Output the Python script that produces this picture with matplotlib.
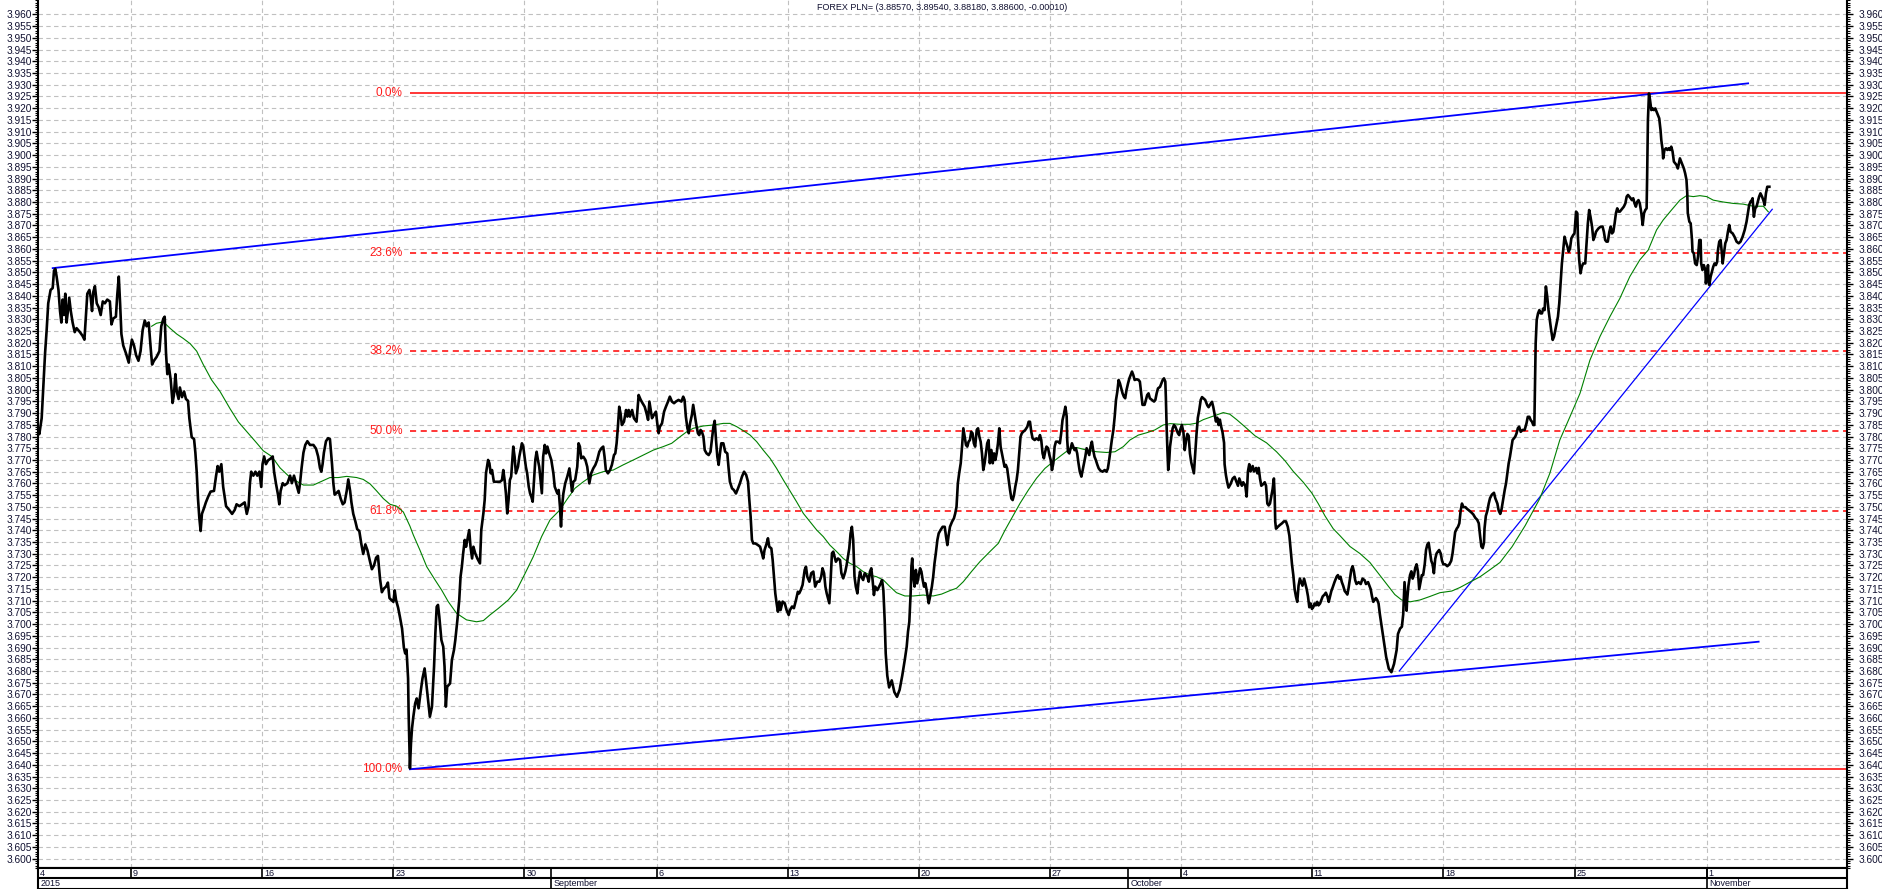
import matplotlib
matplotlib.use("Agg")
import matplotlib.pyplot as plt
from matplotlib.ticker import MultipleLocator, FixedLocator, FormatStrFormatter

plt.rcParams['font.family'] = ['Liberation Sans', 'DejaVu Sans']

# x axis = trading days counted from the first bar (Tue 4 Aug 2015)
day = [
    0.00, 0.05, 0.14, 0.20, 0.27, 0.33, 0.39, 0.48, 0.56, 0.61, 0.66, 0.71, 0.78, 0.84, 0.89, 0.94, 0.99, 1.04, 1.09, 1.14,
    1.19, 1.25, 1.32, 1.40, 1.47, 1.60, 1.70, 1.77, 1.82, 1.88, 1.96, 2.01, 2.06, 2.11, 2.17, 2.24, 2.31, 2.39, 2.47, 2.55,
    2.64, 2.74, 2.80, 2.87, 2.97, 3.02, 3.08, 3.13, 3.18, 3.25, 3.35, 3.46, 3.51, 3.58, 3.66, 3.74, 3.83, 3.91, 3.99, 4.07,
    4.14, 4.22, 4.30, 4.35, 4.42, 4.52, 4.63, 4.70, 4.78, 4.83, 4.88, 4.93, 4.98, 5.06, 5.13, 5.18, 5.24, 5.29, 5.36, 5.41,
    5.49, 5.57, 5.64, 5.72, 5.77, 5.86, 5.95, 6.00, 6.05, 6.10, 6.15, 6.20, 6.25, 6.33, 6.40, 6.49, 6.58, 6.71, 6.79, 6.85,
    6.91, 6.99, 7.06, 7.17, 7.29, 7.40, 7.50, 7.57, 7.68, 7.78, 7.88, 7.96, 8.03, 8.08, 8.13, 8.21, 8.29, 8.36, 8.44, 8.51,
    8.56, 8.62, 8.69, 8.77, 8.87, 8.95, 9.00, 9.07, 9.15, 9.20, 9.25, 9.33, 9.40, 9.51, 9.61, 9.68, 9.76, 9.84, 9.94, 9.99,
    10.05, 10.12, 10.19, 10.27, 10.37, 10.50, 10.60, 10.68, 10.75, 10.80, 10.85, 10.90, 10.98, 11.06, 11.13, 11.21, 11.26,
    11.31, 11.39, 11.46, 11.54, 11.62, 11.69, 11.77, 11.83, 11.90, 11.95, 12.02, 12.10, 12.17, 12.25, 12.33, 12.40, 12.48,
    12.56, 12.66, 12.73, 12.81, 12.89, 12.96, 13.04, 13.11, 13.19, 13.27, 13.34, 13.40, 13.47, 13.55, 13.60, 13.65, 13.73,
    13.80, 13.88, 13.95, 14.00, 14.05, 14.11, 14.13, 14.18, 14.22, 14.26,
    14.31, 14.38, 14.44, 14.51, 14.59, 14.66, 14.74, 14.79, 14.87, 14.94, 15.02, 15.10, 15.15, 15.20, 15.25, 15.30, 15.38,
    15.45, 15.50, 15.55, 15.60, 15.71, 15.78, 15.86, 15.91, 15.99, 16.06, 16.11, 16.16, 16.21, 16.27, 16.32, 16.37, 16.44,
    16.49, 16.55, 16.60, 16.67, 16.75, 16.85, 16.90, 16.98, 17.03, 17.08, 17.16, 17.21, 17.26, 17.31, 17.38, 17.49, 17.61,
    17.69, 17.74, 17.79, 17.84, 17.89, 17.94, 17.99, 18.04, 18.12, 18.17, 18.22, 18.30, 18.35, 18.40, 18.45, 18.50, 18.55,
    18.60, 18.65, 18.71, 18.76, 18.81, 18.86, 18.91, 18.96, 19.01, 19.06, 19.11, 19.16, 19.21, 19.26, 19.32, 19.37, 19.42,
    19.49, 19.57, 19.65, 19.70, 19.75, 19.80, 19.85, 19.90, 19.94, 19.98, 20.03, 20.10, 20.18, 20.26, 20.31, 20.36, 20.41,
    20.48, 20.56, 20.61, 20.66, 20.71, 20.79, 20.87, 20.94, 21.02, 21.09, 21.17, 21.25, 21.32, 21.40, 21.48, 21.55, 21.60,
    21.65, 21.73, 21.81, 21.88, 21.96, 22.01, 22.06, 22.11, 22.16, 22.21, 22.26, 22.34, 22.42, 22.47, 22.52, 22.57, 22.65,
    22.72, 22.82, 22.90, 22.98, 23.05, 23.13, 23.20, 23.26, 23.31, 23.36, 23.41, 23.48, 23.56, 23.61, 23.66, 23.71, 23.79,
    23.87, 23.94, 24.02, 24.09, 24.17, 24.25, 24.32, 24.42, 24.53, 24.60, 24.65, 24.70, 24.76, 24.81, 24.86, 24.93, 24.98,
    25.03, 25.09, 25.16, 25.21, 25.26, 25.31, 25.37, 25.42, 25.49, 25.57, 25.64, 25.69, 25.75, 25.80, 25.85, 25.90, 25.95,
    26.00, 26.05, 26.13, 26.20, 26.28, 26.33, 26.38, 26.46, 26.53, 26.61, 26.69, 26.76, 26.84, 26.92, 27.00, 27.07, 27.12,
    27.17, 27.22, 27.27, 27.35, 27.45, 27.53, 27.60, 27.65, 27.70, 27.78, 27.83, 27.88, 27.96, 28.01, 28.06, 28.11, 28.16,
    28.21, 28.26, 28.31, 28.39, 28.47, 28.54, 28.62, 28.67, 28.75, 28.82, 28.90, 28.97, 29.02,
    29.08, 29.15, 29.23, 29.28, 29.33, 29.41, 29.48, 29.56, 29.63, 29.71, 29.79, 29.86, 29.91, 29.97, 30.02, 30.07, 30.12,
    30.17, 30.22, 30.27, 30.32, 30.37, 30.42, 30.50, 30.58, 30.63, 30.70, 30.78, 30.83, 30.88, 30.93, 30.98, 31.03, 31.08,
    31.13, 31.18, 31.24, 31.29, 31.34, 31.39, 31.46, 31.52, 31.57, 31.62, 31.67, 31.72, 31.77, 31.82, 31.87, 31.92, 32.00,
    32.07, 32.13, 32.18, 32.23, 32.28, 32.32, 32.38, 32.45, 32.55, 32.65, 32.75, 32.85, 32.95, 33.05, 33.12, 33.17, 33.22,
    33.27, 33.30, 33.33, 33.37, 33.42, 33.47, 33.52, 33.57, 33.63, 33.68, 33.73, 33.78, 33.83, 33.88, 33.96, 34.01, 34.08,
    34.13, 34.18, 34.23, 34.29, 34.34, 34.41, 34.49, 34.57, 34.62, 34.67, 34.72, 34.77, 34.85, 34.92, 34.97, 35.02, 35.07,
    35.12, 35.18, 35.23, 35.28, 35.33, 35.38, 35.43, 35.48, 35.53, 35.58, 35.63, 35.68, 35.73, 35.79, 35.84, 35.89, 35.94,
    35.99, 36.04, 36.09, 36.14, 36.19, 36.24, 36.29, 36.35, 36.40, 36.45, 36.50, 36.55, 36.60, 36.65, 36.70, 36.75, 36.80,
    36.85, 36.90, 36.95, 37.00, 37.06, 37.11, 37.16, 37.21, 37.26, 37.31, 37.36, 37.41, 37.46, 37.51, 37.56, 37.64, 37.72,
    37.77, 37.82, 37.87, 37.92, 38.00, 38.07, 38.15, 38.20, 38.25, 38.30, 38.35, 38.40, 38.45, 38.51, 38.56, 38.61, 38.66,
    38.71, 38.76, 38.81, 38.89, 38.96, 39.01, 39.06, 39.12, 39.17, 39.22, 39.24, 39.27, 39.32, 39.37, 39.42, 39.47, 39.52,
    39.57, 39.62, 39.67, 39.72, 39.78, 39.83, 39.88, 39.93, 39.98, 40.03, 40.08, 40.13, 40.18, 40.23, 40.28, 40.33, 40.39,
    40.44, 40.51, 40.59, 40.67, 40.74, 40.79, 40.84, 40.89, 40.94, 41.00, 41.05, 41.10, 41.15, 41.20, 41.25, 41.30, 41.35,
    41.40, 41.45, 41.50, 41.56, 41.61, 41.66, 41.71, 41.76, 41.81, 41.89, 41.96, 42.01, 42.06, 42.11, 42.19, 42.24, 42.29,
    42.34, 42.39, 42.47, 42.55, 42.60, 42.65, 42.70, 42.78, 42.83, 42.88, 42.93, 42.98, 43.00, 43.03, 43.06, 43.09, 43.13,
    43.16, 43.21, 43.26, 43.31, 43.36, 43.41, 43.46, 43.51,
    43.54, 43.61, 43.67, 43.72, 43.77, 43.82, 43.87, 43.92, 43.97, 44.02, 44.07, 44.12, 44.17, 44.22, 44.27, 44.33, 44.38,
    44.43, 44.50, 44.58, 44.63, 44.71, 44.76, 44.81, 44.86, 44.91, 44.96, 45.01, 45.06, 45.11, 45.16, 45.22, 45.24, 45.29,
    45.34, 45.39, 45.47, 45.55, 45.62, 45.67, 45.75, 45.80, 45.85, 45.90, 45.95, 46.03, 46.08, 46.13, 46.18, 46.23, 46.31,
    46.36, 46.44, 46.49, 46.54, 46.59, 46.64, 46.72, 46.77, 46.82, 46.87, 46.92, 46.97, 47.02, 47.07, 47.12, 47.15, 47.17,
    47.20, 47.27, 47.35, 47.43, 47.50, 47.58, 47.65, 47.71, 47.76, 47.81, 47.86, 47.91, 47.96, 48.01, 48.06, 48.11, 48.16,
    48.21, 48.27, 48.32, 48.37, 48.42, 48.47, 48.52, 48.57, 48.62, 48.67, 48.72, 48.77, 48.82, 48.88, 48.93, 48.98, 49.05,
    49.10, 49.16, 49.21, 49.26, 49.31, 49.36, 49.43, 49.51, 49.56, 49.61, 49.66, 49.71, 49.76, 49.82, 49.87, 49.92, 49.97,
    50.02, 50.07, 50.12, 50.17, 50.22, 50.27, 50.35, 50.43, 50.50, 50.58, 50.63, 50.71, 50.76, 50.81, 50.86, 50.91, 50.96,
    51.01, 51.06, 51.11, 51.16, 51.21, 51.26, 51.32, 51.40, 51.50, 51.60, 51.70, 51.80, 51.85, 51.93, 52.00, 52.05, 52.08,
    52.10, 52.13, 52.15, 52.18, 52.20, 52.25, 52.31, 52.36, 52.41, 52.46, 52.51, 52.56, 52.61, 52.66, 52.71, 52.76, 52.81,
    52.87, 52.92, 52.97, 53.02, 53.07, 53.12, 53.17, 53.22, 53.27, 53.32, 53.37, 53.42, 53.48, 53.53, 53.58, 53.65, 53.73,
    53.81, 53.88, 53.93, 53.98, 54.03, 54.09, 54.14, 54.19, 54.24, 54.29, 54.34, 54.42, 54.49, 54.57, 54.65, 54.72, 54.80,
    54.87, 54.93, 54.98, 55.03, 55.08, 55.13, 55.15, 55.20, 55.26, 55.31, 55.36, 55.43, 55.51, 55.56, 55.64, 55.69, 55.75,
    55.80,
    55.86, 55.92, 55.97, 56.02, 56.07, 56.12, 56.17, 56.22, 56.27, 56.32, 56.37, 56.42, 56.47, 56.53, 56.60, 56.68, 56.75,
    56.80, 56.86, 56.91, 56.96, 57.01, 57.05, 57.07, 57.10, 57.14, 57.19, 57.24, 57.29, 57.34, 57.39, 57.44, 57.49, 57.54,
    57.59, 57.64, 57.69, 57.75, 57.80, 57.85, 57.90, 57.95, 58.00, 58.05, 58.10, 58.15, 58.20, 58.25, 58.31, 58.36, 58.41,
    58.46, 58.53, 58.58, 58.64, 58.69, 58.71, 58.76, 58.81, 58.86, 58.91, 58.99, 59.04, 59.09, 59.14, 59.19, 59.25, 59.30,
    59.35, 59.40, 59.45, 59.50, 59.58, 59.65, 59.70, 59.75, 59.80, 59.85, 59.91, 59.96, 60.01, 60.06, 60.11, 60.16, 60.21,
    60.26, 60.31, 60.36, 60.41, 60.46, 60.52, 60.57, 60.62, 60.67, 60.72, 60.77, 60.82, 60.87, 60.92, 60.97, 61.02, 61.07,
    61.13, 61.18, 61.23, 61.28, 61.33, 61.35, 61.38, 61.42, 61.46, 61.51, 61.56, 61.61, 61.66, 61.71, 61.76, 61.81, 61.86,
    61.89, 61.94, 61.96, 62.01, 62.07, 62.12, 62.17, 62.22, 62.27, 62.32, 62.37, 62.42, 62.47, 62.52, 62.55, 62.60, 62.65,
    62.70, 62.75, 62.80, 62.85, 62.88, 62.90, 62.96, 63.01, 63.03, 63.06, 63.08, 63.13, 63.18, 63.24, 63.29, 63.34, 63.39,
    63.41, 63.46, 63.51, 63.57, 63.59, 63.62, 63.67, 63.69, 63.72, 63.77, 63.82, 63.87, 63.92, 63.97, 64.02, 64.05, 64.10,
    64.15, 64.20, 64.23, 64.28, 64.33, 64.38, 64.43, 64.48, 64.53, 64.61, 64.68, 64.76, 64.84, 64.91, 64.99, 65.07, 65.14,
    65.19, 65.24, 65.29, 65.34, 65.37, 65.40, 65.42, 65.47, 65.52, 65.57, 65.62, 65.67, 65.73, 65.78, 65.83, 65.88, 65.93,
    66.01,
]

close = [
    3.7829, 3.7810, 3.7878, 3.8009, 3.8156, 3.8254, 3.8368, 3.8425, 3.8433, 3.8507, 3.8515, 3.8482, 3.8425, 3.8335, 3.8286,
    3.8384, 3.8318, 3.8409, 3.8286, 3.8335, 3.8392, 3.8335, 3.8286, 3.8245, 3.8262, 3.8245, 3.8229, 3.8213, 3.8303, 3.8409,
    3.8425, 3.8392, 3.8335, 3.8417, 3.8441, 3.8368, 3.8352, 3.8318, 3.8376, 3.8368, 3.8384, 3.8376, 3.8278, 3.8303, 3.8311,
    3.8401, 3.8482, 3.8368, 3.8237, 3.8188, 3.8156, 3.8115, 3.8164, 3.8213, 3.8188, 3.8147, 3.8123, 3.8164, 3.8254, 3.8295,
    3.8270, 3.8286, 3.8172, 3.8107, 3.8123, 3.8139, 3.8164, 3.8270, 3.8303, 3.8311, 3.8156, 3.8066, 3.8107, 3.8041, 3.7943,
    3.7976, 3.8066, 3.7992, 3.7960, 3.8009, 3.7968, 3.7992, 3.7960, 3.7952, 3.7878, 3.7797, 3.7789, 3.7731, 3.7650, 3.7535,
    3.7454, 3.7397, 3.7470, 3.7495, 3.7519, 3.7544, 3.7565, 3.7568, 3.7633, 3.7674, 3.7650, 3.7682, 3.7585, 3.7503, 3.7487,
    3.7470, 3.7487, 3.7511, 3.7503, 3.7511, 3.7519, 3.7470, 3.7503, 3.7601, 3.7650, 3.7633, 3.7650, 3.7633, 3.7650, 3.7585,
    3.7682, 3.7715, 3.7682, 3.7698, 3.7706, 3.7715, 3.7650, 3.7601, 3.7552, 3.7511, 3.7568, 3.7601, 3.7592, 3.7601, 3.7633,
    3.7601, 3.7633, 3.7601, 3.7560, 3.7601, 3.7666, 3.7731, 3.7764, 3.7780, 3.7764, 3.7764, 3.7748, 3.7715, 3.7666, 3.7650,
    3.7682, 3.7731, 3.7780, 3.7793, 3.7789, 3.7682, 3.7601, 3.7552, 3.7560, 3.7568, 3.7535, 3.7511, 3.7519, 3.7568, 3.7617,
    3.7568, 3.7519, 3.7470, 3.7438, 3.7405, 3.7397, 3.7340, 3.7299, 3.7340, 3.7315, 3.7266, 3.7234, 3.7250, 3.7283, 3.7291,
    3.7193, 3.7136, 3.7152, 3.7160, 3.7177, 3.7111, 3.7103, 3.7095, 3.7144, 3.7103, 3.7070, 3.7030, 3.6981, 3.6899, 3.6875,
    3.6891, 3.6768, 3.6621, 3.6385, 3.6491, 3.6556,
    3.6605, 3.6662, 3.6683, 3.6641, 3.6712, 3.6769, 3.6811, 3.6762, 3.6677, 3.6605, 3.6648, 3.6819, 3.6961, 3.7074, 3.7082,
    3.7032, 3.6932, 3.6904, 3.6819, 3.6648, 3.6733, 3.6747, 3.6847, 3.6890, 3.6932, 3.7018, 3.7103, 3.7202, 3.7245, 3.7302,
    3.7359, 3.7330, 3.7359, 3.7401, 3.7330, 3.7280, 3.7330, 3.7302, 3.7280, 3.7259, 3.7401, 3.7472, 3.7529, 3.7643, 3.7700,
    3.7686, 3.7643, 3.7657, 3.7607, 3.7607, 3.7607, 3.7614, 3.7657, 3.7614, 3.7557, 3.7472, 3.7529, 3.7614, 3.7629, 3.7757,
    3.7714, 3.7643, 3.7671, 3.7714, 3.7742, 3.7771, 3.7757, 3.7714, 3.7671, 3.7643, 3.7586, 3.7558, 3.7543, 3.7522, 3.7614,
    3.7700, 3.7735, 3.7700, 3.7671, 3.7614, 3.7558, 3.7714, 3.7764, 3.7728, 3.7757, 3.7728, 3.7700, 3.7643, 3.7586, 3.7572,
    3.7557, 3.7572, 3.7501, 3.7416, 3.7501, 3.7557, 3.7600, 3.7629, 3.7664, 3.7614, 3.7565, 3.7607, 3.7614, 3.7671, 3.7771,
    3.7757, 3.7707, 3.7714, 3.7700, 3.7671, 3.7600, 3.7643, 3.7664, 3.7679, 3.7700, 3.7735, 3.7750, 3.7757, 3.7714, 3.7657,
    3.7643, 3.7657, 3.7679, 3.7721, 3.7728, 3.7771, 3.7842, 3.7927, 3.7899, 3.7849, 3.7863, 3.7913, 3.7885, 3.7913, 3.7885,
    3.7913, 3.7878, 3.7863, 3.7977, 3.7956, 3.7942, 3.7927, 3.7899, 3.7871, 3.7949, 3.7913, 3.7878, 3.7892, 3.7906, 3.7856,
    3.7814, 3.7842, 3.7856, 3.7906, 3.7927, 3.7949, 3.7970, 3.7949, 3.7942, 3.7949, 3.7956, 3.7949, 3.7970, 3.7956, 3.7885,
    3.7835, 3.7814, 3.7856, 3.7892, 3.7935, 3.7899, 3.7856, 3.7814, 3.7806, 3.7828, 3.7821, 3.7799, 3.7742, 3.7728, 3.7721,
    3.7735, 3.7785, 3.7842, 3.7867, 3.7785, 3.7714, 3.7679, 3.7728, 3.7771, 3.7771, 3.7735, 3.7728, 3.7664, 3.7607, 3.7579,
    3.7572, 3.7557, 3.7579, 3.7600, 3.7629, 3.7650, 3.7636, 3.7607, 3.7529, 3.7458, 3.7359, 3.7344, 3.7344, 3.7337, 3.7330,
    3.7302, 3.7280, 3.7316, 3.7344, 3.7366, 3.7330, 3.7323, 3.7273, 3.7202, 3.7131, 3.7089, 3.7053, 3.7096, 3.7060, 3.7096,
    3.7089, 3.7060, 3.7039, 3.7060, 3.7075, 3.7068, 3.7103, 3.7138, 3.7131,
    3.7145, 3.7167, 3.7231, 3.7245, 3.7202, 3.7181, 3.7217, 3.7224, 3.7160, 3.7181, 3.7181, 3.7202, 3.7238, 3.7217, 3.7160,
    3.7131, 3.7110, 3.7089, 3.7188, 3.7302, 3.7309, 3.7288, 3.7266, 3.7280, 3.7273, 3.7217, 3.7195, 3.7224, 3.7252, 3.7288,
    3.7323, 3.7387, 3.7415, 3.7359, 3.7202, 3.7160, 3.7131, 3.7188, 3.7224, 3.7202, 3.7188, 3.7217, 3.7209, 3.7202, 3.7181,
    3.7224, 3.7238, 3.7188, 3.7124, 3.7160, 3.7145, 3.7160, 3.7174, 3.7188, 3.7145, 3.7018, 3.6875, 3.6780, 3.6730, 3.6760,
    3.6710, 3.6690, 3.6720, 3.6780, 3.6850, 3.6904, 3.6968, 3.7010, 3.7131, 3.7245, 3.7280, 3.7202, 3.7160, 3.7231, 3.7174,
    3.7202, 3.7238, 3.7224, 3.7188, 3.7160, 3.7174, 3.7145, 3.7089, 3.7117, 3.7160, 3.7202, 3.7259, 3.7302, 3.7359, 3.7387,
    3.7401, 3.7415, 3.7415, 3.7373, 3.7337, 3.7380, 3.7415, 3.7437, 3.7451, 3.7472, 3.7501, 3.7600, 3.7643, 3.7686, 3.7757,
    3.7835, 3.7799, 3.7764, 3.7757, 3.7778, 3.7785, 3.7820, 3.7814, 3.7771, 3.7757, 3.7828, 3.7835, 3.7799, 3.7778, 3.7728,
    3.7657, 3.7686, 3.7728, 3.7771, 3.7785, 3.7686, 3.7742, 3.7686, 3.7728, 3.7700, 3.7728, 3.7771, 3.7835, 3.7757, 3.7728,
    3.7700, 3.7671, 3.7679, 3.7664, 3.7622, 3.7572, 3.7536, 3.7529, 3.7550, 3.7586, 3.7614, 3.7657, 3.7728, 3.7799, 3.7814,
    3.7820, 3.7828, 3.7842, 3.7863, 3.7863, 3.7820, 3.7792, 3.7785, 3.7792, 3.7785, 3.7806, 3.7785, 3.7728, 3.7707, 3.7735,
    3.7757, 3.7750, 3.7721, 3.7700, 3.7657, 3.7686, 3.7757, 3.7778, 3.7778, 3.7771, 3.7814, 3.7870, 3.7899, 3.7927, 3.7885,
    3.7785, 3.7735, 3.7728, 3.7750, 3.7771, 3.7757, 3.7742, 3.7750, 3.7728, 3.7686, 3.7650, 3.7629, 3.7657, 3.7686, 3.7714,
    3.7750, 3.7735, 3.7721, 3.7757, 3.7778, 3.7742, 3.7714, 3.7700, 3.7679, 3.7664, 3.7654, 3.7650, 3.7657, 3.7650, 3.7664,
    3.7700, 3.7742, 3.7785, 3.7828, 3.7885, 3.7956, 3.7991, 3.8041, 3.8027, 3.8005, 3.7984, 3.7970, 3.7963, 3.7998, 3.8027,
    3.8048, 3.8062, 3.8077, 3.8062, 3.8041, 3.8044, 3.8041, 3.8034, 3.7984, 3.7935, 3.7935, 3.7956, 3.7977, 3.7984, 3.7963,
    3.7956, 3.7949, 3.7956, 3.7984, 3.8005, 3.8012, 3.8027, 3.8041, 3.8048, 3.8034, 3.7970, 3.7842, 3.7742, 3.7657, 3.7700,
    3.7757, 3.7799, 3.7835, 3.7849, 3.7842, 3.7828, 3.7814, 3.7806,
    3.7826, 3.7849, 3.7819, 3.7742, 3.7781, 3.7811, 3.7803, 3.7727, 3.7689, 3.7666, 3.7643, 3.7727, 3.7811, 3.7880, 3.7910,
    3.7956, 3.7968, 3.7963, 3.7956, 3.7933, 3.7925, 3.7940, 3.7948, 3.7925, 3.7895, 3.7864, 3.7880, 3.7849, 3.7872, 3.7842,
    3.7819, 3.7773, 3.7682, 3.7636, 3.7605, 3.7582, 3.7598, 3.7621, 3.7628, 3.7613, 3.7590, 3.7621, 3.7605, 3.7590, 3.7605,
    3.7590, 3.7544, 3.7651, 3.7682, 3.7651, 3.7674, 3.7651, 3.7666, 3.7643, 3.7666, 3.7621, 3.7590, 3.7598, 3.7605, 3.7590,
    3.7514, 3.7506, 3.7514, 3.7544, 3.7575, 3.7621, 3.7544, 3.7438, 3.7407, 3.7415, 3.7423, 3.7430, 3.7438, 3.7438, 3.7415,
    3.7377, 3.7316, 3.7255, 3.7209, 3.7149, 3.7118, 3.7095, 3.7164, 3.7194, 3.7179, 3.7164, 3.7194, 3.7171, 3.7149, 3.7118,
    3.7072, 3.7088, 3.7065, 3.7072, 3.7088, 3.7080, 3.7095, 3.7080, 3.7088, 3.7103, 3.7118, 3.7126, 3.7134, 3.7118, 3.7095,
    3.7118, 3.7141, 3.7156, 3.7179, 3.7202, 3.7209, 3.7194, 3.7202, 3.7179, 3.7164, 3.7141, 3.7134, 3.7126, 3.7156, 3.7194,
    3.7232, 3.7247, 3.7225, 3.7187, 3.7171, 3.7179, 3.7171, 3.7194, 3.7187, 3.7171, 3.7179, 3.7164, 3.7149, 3.7118, 3.7095,
    3.7103, 3.7111, 3.7103, 3.7088, 3.7042, 3.7004, 3.6966, 3.6920, 3.6860, 3.6810, 3.6795, 3.6830, 3.6890, 3.6958, 3.6981,
    3.6989, 3.7042, 3.7118, 3.7179, 3.7134, 3.7103, 3.7057, 3.7103, 3.7164, 3.7209, 3.7225, 3.7194, 3.7209, 3.7240, 3.7255,
    3.7225, 3.7149, 3.7179, 3.7209, 3.7209, 3.7255, 3.7316, 3.7339, 3.7347, 3.7309, 3.7270, 3.7255, 3.7217, 3.7278, 3.7301,
    3.7309, 3.7316, 3.7301, 3.7270, 3.7255, 3.7255, 3.7247, 3.7255, 3.7270, 3.7301, 3.7347, 3.7392, 3.7407, 3.7415, 3.7430,
    3.7484, 3.7514, 3.7499, 3.7499, 3.7491, 3.7484, 3.7476, 3.7468, 3.7453, 3.7445, 3.7430, 3.7377, 3.7331, 3.7324, 3.7347,
    3.7407, 3.7461, 3.7484, 3.7514, 3.7537, 3.7552, 3.7560, 3.7537, 3.7514, 3.7484, 3.7470, 3.7490,
    3.7532, 3.7572, 3.7600, 3.7643, 3.7685, 3.7714, 3.7750, 3.7785, 3.7792, 3.7799, 3.7813, 3.7835, 3.7842, 3.7820, 3.7828,
    3.7828, 3.7856, 3.7884, 3.7884, 3.7870, 3.7863, 3.7849, 3.7849, 3.7998, 3.8197, 3.8297, 3.8325, 3.8339, 3.8325, 3.8325,
    3.8346, 3.8339, 3.8440, 3.8397, 3.8339, 3.8297, 3.8254, 3.8212, 3.8226, 3.8254, 3.8282, 3.8311, 3.8368, 3.8453, 3.8538,
    3.8595, 3.8652, 3.8631, 3.8610, 3.8588, 3.8602, 3.8645, 3.8659, 3.8666, 3.8759, 3.8752, 3.8652, 3.8553, 3.8496, 3.8524,
    3.8538, 3.8538, 3.8624, 3.8709, 3.8766, 3.8737, 3.8695, 3.8638, 3.8652, 3.8673, 3.8681, 3.8688, 3.8695, 3.8695, 3.8673,
    3.8638, 3.8631, 3.8631, 3.8673, 3.8695, 3.8666, 3.8673, 3.8709, 3.8752, 3.8773, 3.8759, 3.8759, 3.8766, 3.8773, 3.8780,
    3.8794, 3.8823, 3.8830, 3.8823, 3.8816, 3.8808, 3.8816, 3.8794, 3.8780, 3.8801, 3.8808, 3.8794, 3.8752, 3.8702, 3.8752,
    3.8766, 3.8773, 3.8908, 3.9150, 3.9263, 3.9235, 3.9192, 3.9199, 3.9192, 3.9199, 3.9185, 3.9171, 3.9157, 3.9107, 3.9064,
    3.9022, 3.8986, 3.9022, 3.9029, 3.9022, 3.9029, 3.9022, 3.9036, 3.9015, 3.8972, 3.8965, 3.8958, 3.8943, 3.8958, 3.8986,
    3.8972, 3.8958, 3.8943, 3.8922, 3.8894, 3.8837, 3.8752, 3.8716, 3.8709, 3.8681, 3.8638, 3.8588, 3.8581, 3.8538, 3.8531,
    3.8567, 3.8638, 3.8638, 3.8538, 3.8510, 3.8531, 3.8510, 3.8453, 3.8481, 3.8531, 3.8467, 3.8446, 3.8481, 3.8503, 3.8524,
    3.8538, 3.8531, 3.8545, 3.8595, 3.8631, 3.8638, 3.8581, 3.8538, 3.8581, 3.8624, 3.8638, 3.8673, 3.8702, 3.8673, 3.8666,
    3.8652, 3.8631, 3.8624, 3.8631, 3.8652, 3.8681, 3.8716, 3.8752, 3.8787, 3.8801, 3.8808, 3.8816, 3.8766, 3.8737, 3.8773,
    3.8780, 3.8801, 3.8823, 3.8837, 3.8823, 3.8808, 3.8787, 3.8837, 3.8865, 3.8865,
]

# moving average (green)
ma_day = [
    4.33, 4.52, 4.78, 5.03, 5.29, 5.54, 5.80, 6.05, 6.30, 6.62, 6.94, 7.32, 7.64, 7.96, 8.34, 8.59, 8.91, 9.23, 9.54, 9.86,
    10.12, 10.50, 10.81, 11.13, 11.45, 11.77, 12.15, 12.40, 12.66, 12.91, 13.17, 13.42, 13.67, 13.93, 14.18, 14.31, 14.56,
    14.82, 15.14, 15.39, 15.64, 15.96, 16.34, 16.72, 16.98, 17.23, 17.55, 17.93, 18.25, 18.57, 18.88, 19.20, 19.52, 19.90,
    20.15, 20.47, 20.79, 21.17, 21.55, 21.93, 22.31, 22.70, 23.08, 23.46, 23.84, 24.16, 24.48, 24.73, 24.98, 25.37, 25.75,
    26.13, 26.38, 26.64, 26.89, 27.15, 27.40, 27.65, 27.91, 28.16, 28.42, 28.67, 28.92, 29.18, 29.43, 29.69, 29.94, 30.19,
    30.45, 30.70, 30.96, 31.21, 31.46, 31.72, 31.97, 32.23, 32.48, 32.73, 33.05, 33.37, 33.75, 34.13, 34.45, 34.77, 35.02,
    35.28, 35.59, 35.91, 36.29, 36.61, 36.87, 37.12, 37.44, 37.76, 38.07, 38.39, 38.71, 39.03, 39.34, 39.60, 39.98, 40.36,
    40.74, 41.06, 41.38, 41.63, 41.95, 42.27, 42.58, 42.90, 43.16, 43.54, 43.92, 44.17, 44.43, 44.81, 45.19, 45.44, 45.70,
    46.02, 46.40, 46.84, 47.22, 47.54, 47.86, 48.24, 48.56, 48.81, 49.07, 49.38, 49.64, 50.02, 50.40, 50.78, 51.10, 51.42,
    51.73, 51.99, 52.31, 52.69, 53.07, 53.45, 53.90, 54.21, 54.59, 54.98, 55.36, 55.74, 56.20, 56.70, 57.26, 57.64, 58.02,
    58.41, 58.79, 59.17, 59.55, 59.93, 60.31, 60.69, 61.07, 61.39, 61.71, 61.96, 62.28, 62.60, 62.85, 63.11, 63.36, 63.62,
    63.87, 64.25, 64.63, 65.01, 65.40, 65.78, 65.97,
]
ma = [
    3.8270, 3.8283, 3.8289, 3.8262, 3.8237, 3.8218, 3.8196, 3.8164, 3.8107, 3.8041, 3.7992, 3.7919, 3.7862, 3.7821, 3.7772,
    3.7739, 3.7715, 3.7666, 3.7633, 3.7609, 3.7593, 3.7593, 3.7609, 3.7625, 3.7625, 3.7630, 3.7625, 3.7617, 3.7598, 3.7568,
    3.7535, 3.7511, 3.7503, 3.7478, 3.7418, 3.7380, 3.7316, 3.7245, 3.7188, 3.7145, 3.7096, 3.7046, 3.7018, 3.7010, 3.7015,
    3.7039, 3.7067, 3.7103, 3.7145, 3.7216, 3.7287, 3.7373, 3.7444, 3.7487, 3.7529, 3.7579, 3.7607, 3.7636, 3.7650, 3.7657,
    3.7679, 3.7700, 3.7721, 3.7742, 3.7757, 3.7771, 3.7799, 3.7820, 3.7835, 3.7845, 3.7849, 3.7856, 3.7856, 3.7842, 3.7825,
    3.7806, 3.7778, 3.7742, 3.7707, 3.7664, 3.7614, 3.7568, 3.7522, 3.7472, 3.7437, 3.7401, 3.7373, 3.7337, 3.7309, 3.7280,
    3.7259, 3.7245, 3.7224, 3.7209, 3.7202, 3.7188, 3.7160, 3.7134, 3.7120, 3.7120, 3.7124, 3.7120, 3.7128, 3.7143, 3.7153,
    3.7181, 3.7224, 3.7266, 3.7309, 3.7344, 3.7401, 3.7451, 3.7515, 3.7572, 3.7622, 3.7664, 3.7693, 3.7721, 3.7747, 3.7753,
    3.7742, 3.7735, 3.7732, 3.7735, 3.7757, 3.7785, 3.7806, 3.7816, 3.7828, 3.7849, 3.7855, 3.7852, 3.7852, 3.7857, 3.7872,
    3.7887, 3.7902, 3.7895, 3.7872, 3.7841, 3.7803, 3.7773, 3.7735, 3.7697, 3.7651, 3.7605, 3.7560, 3.7514, 3.7461, 3.7407,
    3.7377, 3.7331, 3.7301, 3.7263, 3.7217, 3.7171, 3.7126, 3.7103, 3.7095, 3.7103, 3.7118, 3.7134, 3.7141, 3.7156, 3.7179,
    3.7202, 3.7232, 3.7263, 3.7330, 3.7420, 3.7536, 3.7643, 3.7785, 3.7885, 3.7984, 3.8126, 3.8226, 3.8311, 3.8389, 3.8482,
    3.8553, 3.8595, 3.8681, 3.8723, 3.8766, 3.8808, 3.8827, 3.8823, 3.8827, 3.8823, 3.8808, 3.8800, 3.8794, 3.8791, 3.8782,
    3.8782, 3.8758,
]

# drawn trend lines (start / end)
channel_top_day = [0.56, 65.20]
channel_top = [3.8518, 3.9306]
channel_bot_day = [14.18, 65.60]
channel_bot = [3.6381, 3.6925]
trend_day = [51.90, 66.12]
trend = [3.6800, 3.8769]

# fibonacci retracement between the August low and the October high
fib_low = 3.6381
fib_high = 3.9265
fib_start = 14.18
fib_ratio = [0.0, 0.236, 0.382, 0.5, 0.618, 1.0]
fib_label = ['0.0%', '23.6%', '38.2%', '50.0%', '61.8%', '100.0%']

# price scale labels 3.600 ... 3.960
price_ticks = [round(3.600 + 0.005 * i, 3) for i in range(73)]

week_day = [3.53, 8.55, 13.55, 18.54, 23.59, 28.58, 33.58, 38.57, 43.56, 48.56, 53.58, 58.59, 63.62]
week_label = ['9', '16', '23', '30', '6', '13', '20', '27', '4', '11', '18', '25', '1']
month_day = [19.56, 41.56, 63.62]
month_label = ['September', 'October', 'November']

title = 'FOREX PLN= (3.88570, 3.89540, 3.88180, 3.88600, -0.00010)'

W, H = 1883, 889
x_end = 68.97
label_col = '#101030'
grid_col = '#c0c0c0'

fig = plt.figure(figsize=(W / 100, H / 100), dpi=100)
ax = fig.add_axes([38 / W, 21 / H, 1809 / W, 868 / H])
ax.set_xlim(0, x_end)
ax.set_ylim(3.5960, 3.96614)

# grid
ax.set_xticks(week_day)
ax.tick_params(axis='x', length=0, labelbottom=False)
ax.yaxis.set_major_locator(FixedLocator(price_ticks))
ax.yaxis.set_minor_locator(MultipleLocator(0.001))
ax.yaxis.set_major_formatter(FormatStrFormatter('%.3f'))
ax.grid(True, which='major', color=grid_col, ls=(0, (4, 3)), lw=0.8)
ax.set_axisbelow(True)
ax.tick_params(axis='y', which='major', length=4, width=1, pad=0.5, labelsize=7.3, labelcolor=label_col)
ax.tick_params(axis='y', which='minor', length=2.2, width=0.8)

ax.spines['top'].set_visible(False)
for s in ['left', 'right', 'bottom']:
    ax.spines[s].set_linewidth(1.5)
    ax.spines[s].set_color('black')

# right hand scale
ax2 = ax.twinx()
ax2.set_ylim(ax.get_ylim())
ax2.yaxis.set_major_locator(FixedLocator(price_ticks))
ax2.yaxis.set_minor_locator(MultipleLocator(0.001))
ax2.yaxis.set_major_formatter(FormatStrFormatter('%.3f'))
ax2.tick_params(axis='y', which='major', length=4, width=1, pad=4, labelsize=7.3, labelcolor=label_col)
ax2.tick_params(axis='y', which='minor', length=2.2, width=0.8)
for s in ax2.spines.values():
    s.set_visible(False)

# fibonacci levels
for r, lab in zip(fib_ratio, fib_label):
    lvl = fib_high - r * (fib_high - fib_low)
    if r in (0.0, 1.0):
        ax.hlines(lvl, fib_start, x_end, color='#ff0000', lw=1.1, zorder=2)
    else:
        ax.hlines(lvl, fib_start, x_end, color='#ff0000', lw=1.1, ls=(0, (4, 3)), zorder=2)
    ax.text(fib_start - 0.28, lvl, lab, color='#ff1a1a', fontsize=8.5, ha='right', va='center')

# trend lines
ax.plot(channel_top_day, channel_top, color='#0000ff', lw=1.3, zorder=3)
ax.plot(channel_bot_day, channel_bot, color='#0000ff', lw=1.3, zorder=3)
ax.plot(trend_day, trend, color='#0000ff', lw=0.9, zorder=3)

# moving average and price
ax.plot(ma_day, ma, color='#008000', lw=0.8, zorder=4)
ax.plot(day, close, color='black', lw=1.9, zorder=5)

ax.text(0.5, 1 - 7 / 868, title, transform=ax.transAxes, ha='center', va='center', fontsize=6.5, color=label_col)

# date band under the chart
dax = fig.add_axes([38 / W, 0, 1809 / W, 21 / H])
dax.set_xlim(0, x_end)
dax.set_ylim(0, 21)
dax.set_xticks([])
dax.set_yticks([])
for s in dax.spines.values():
    s.set_linewidth(1.5)
    s.set_color('black')
dax.axhline(11, color='black', lw=1.5)
dax.vlines(week_day, 11, 21, color='black', lw=1.2)
dax.vlines(month_day, 0, 21, color='black', lw=1.2)
dax.text(0.08, 16, '4', fontsize=6.5, ha='left', va='center', color=label_col)
dax.text(0.08, 5.5, '2015', fontsize=6.5, ha='left', va='center', color=label_col)
for d, lab in zip(week_day, week_label):
    dax.text(d + 0.08, 16, lab, fontsize=6.5, ha='left', va='center', color=label_col)
for d, lab in zip(month_day, month_label):
    dax.text(d + 0.08, 5.5, lab, fontsize=6.5, ha='left', va='center', color=label_col)

fig.savefig('out.png', dpi=100)
